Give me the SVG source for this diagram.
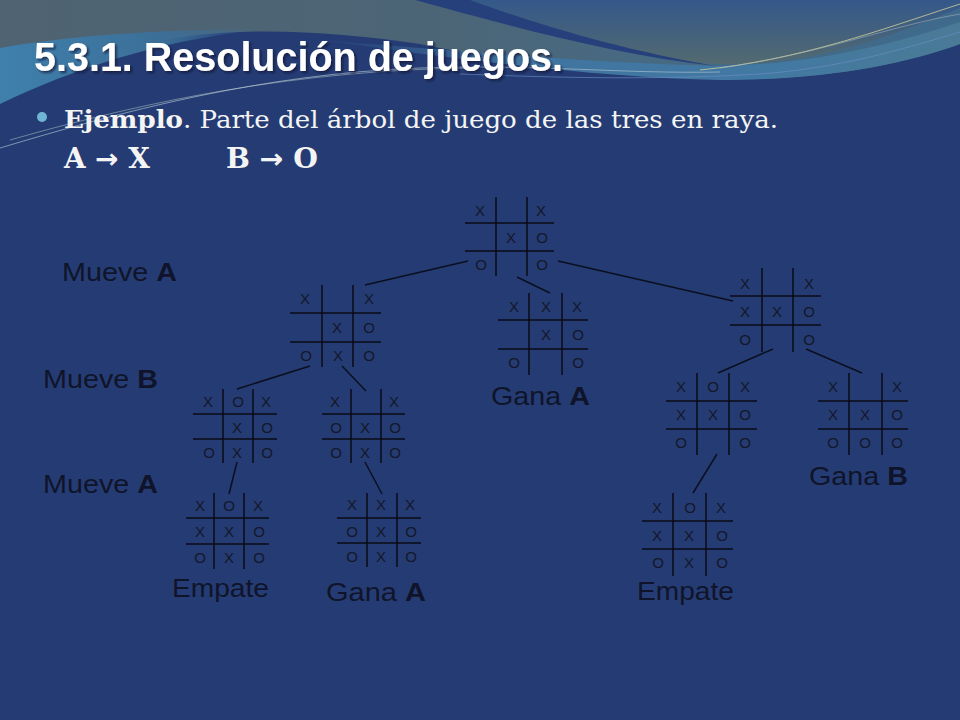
<svg xmlns="http://www.w3.org/2000/svg" width="960" height="720" viewBox="0 0 960 720">
<defs>
<linearGradient id="topg" x1="0" y1="0" x2="1" y2="0">
<stop offset="0" stop-color="#4f6372"/>
<stop offset="0.45" stop-color="#4c6576"/>
<stop offset="0.7" stop-color="#466a84"/>
<stop offset="1" stop-color="#3f6a8c"/>
</linearGradient>
<linearGradient id="domeg" x1="0" y1="0" x2="0" y2="1">
<stop offset="0" stop-color="#34588a"/>
<stop offset="1" stop-color="#536a70"/>
</linearGradient>
<linearGradient id="leftb" x1="0" y1="0" x2="1" y2="0">
<stop offset="0" stop-color="#3f80ad"/>
<stop offset="0.6" stop-color="#3c6f98"/>
<stop offset="1" stop-color="#3c6f98" stop-opacity="0"/>
</linearGradient>
<linearGradient id="tealb" x1="0" y1="0" x2="1" y2="0">
<stop offset="0" stop-color="#3c6e9c" stop-opacity="0"/>
<stop offset="0.3" stop-color="#3f74a0"/>
<stop offset="0.7" stop-color="#4279a2"/>
<stop offset="1" stop-color="#4a7a96"/>
</linearGradient>
<filter id="sh" x="-5%" y="-20%" width="110%" height="140%">
<feDropShadow dx="2" dy="2" stdDeviation="1" flood-color="#101830" flood-opacity="0.7"/>
</filter>
<style>
.g line{stroke:#0a0a14;stroke-width:1.5}
.g text{font-family:"Liberation Sans",Arial,sans-serif;font-size:15px;fill:#14172a;text-anchor:middle;dominant-baseline:central}
.c line{stroke:#0b0f20;stroke-width:1.5}
.lbl{font-family:"Liberation Sans",Arial,sans-serif;font-size:26px;fill:#10142a}
.lbl tspan.b{font-weight:bold}
.ser{font-family:"DejaVu Serif","Liberation Serif",serif;fill:#f4f4f4}
</style>
</defs>
<g id="background">
<rect width="960" height="720" fill="#243c73"/>
<path d="M0,0 H960 V44 C880,72 800,80 720,79 C600,77 500,60 420,44 C340,32 260,27 190,36 C120,46 55,72 0,102 Z" fill="url(#topg)"/>
<path d="M0,48 C70,36 150,30 265,29 C160,40 75,68 0,104 Z" fill="url(#leftb)"/>
<path d="M320,40 C450,50 600,64 720,66 C820,64 900,42 960,22 V44 C900,66 820,80 720,80 C600,78 450,58 320,40 Z" fill="url(#tealb)"/>
<path d="M421,0 C500,22 620,58 720,64 C820,66 900,32 960,8 V0 Z" fill="url(#domeg)"/>
<path d="M415,0 C510,26 620,56 716,66 C620,50 530,22 470,0 Z" fill="#26407c"/>
<path d="M0,148 C120,112 260,74 420,68 C540,64 620,74 720,72" fill="none" stroke="#a7bccc" stroke-width="1" opacity="0.7"/>
<path d="M10,140 C150,100 300,70 470,68" fill="none" stroke="#d2dcd4" stroke-width="0.8" opacity="0.55"/>
<path d="M700,70 C800,60 880,30 960,4" fill="none" stroke="#cfcf9c" stroke-width="1" opacity="0.8"/>
<path d="M720,68 C820,54 890,26 960,14" fill="none" stroke="#a3b6ba" stroke-width="0.8" opacity="0.7"/>
<path d="M460,74 C560,78 660,80 760,74 C840,68 900,50 960,32" fill="none" stroke="#7090c8" stroke-width="1" opacity="0.6"/>
</g>
<g id="header">
<text x="34" y="71" font-family="Liberation Sans,Arial,sans-serif" font-size="40" font-weight="bold" fill="#ffffff" filter="url(#sh)" textLength="529" lengthAdjust="spacingAndGlyphs">5.3.1. Resolución de juegos.</text>
<circle cx="42" cy="117" r="5" fill="#6fb6d6"/>
<text class="ser" x="64" y="128" font-size="25" textLength="714" lengthAdjust="spacingAndGlyphs"><tspan font-weight="bold">Ejemplo</tspan>. Parte del árbol de juego de las tres en raya.</text>
<text class="ser" x="64" y="168" font-size="27" font-weight="bold" textLength="86" lengthAdjust="spacingAndGlyphs">A <tspan font-family="DejaVu Sans,sans-serif">→</tspan> X</text>
<text class="ser" x="226" y="168" font-size="27" font-weight="bold" textLength="92" lengthAdjust="spacingAndGlyphs">B <tspan font-family="DejaVu Sans,sans-serif">→</tspan> O</text>
</g>
<g id="connectors" class="c">
<line x1="468" y1="261" x2="365" y2="285"/>
<line x1="517" y1="277" x2="550" y2="293"/>
<line x1="558" y1="261" x2="733" y2="301"/>
<line x1="310" y1="366" x2="237" y2="389"/>
<line x1="342" y1="366" x2="366" y2="391"/>
<line x1="237" y1="462" x2="229" y2="494"/>
<line x1="365" y1="462" x2="382" y2="494"/>
<line x1="773" y1="349" x2="718" y2="373"/>
<line x1="806" y1="349" x2="862" y2="373"/>
<line x1="717" y1="454" x2="693" y2="493"/>
</g>
<g id="board0" class="g">
<line x1="465" y1="223" x2="554" y2="223"/><line x1="465" y1="251" x2="554" y2="251"/>
<line x1="496" y1="197" x2="496" y2="276"/><line x1="527" y1="197" x2="527" y2="276"/>
<text x="480" y="210">X</text><text x="541" y="210">X</text>
<text x="511" y="237">X</text><text x="542" y="237">O</text>
<text x="481" y="264">O</text><text x="542" y="264">O</text>
</g>
<g id="board1" class="g">
<line x1="290" y1="313" x2="381" y2="313"/><line x1="290" y1="342" x2="381" y2="342"/>
<line x1="322" y1="285" x2="322" y2="367"/><line x1="353" y1="285" x2="353" y2="367"/>
<text x="305" y="298">X</text><text x="369" y="298">X</text>
<text x="337" y="327">X</text><text x="369" y="327">O</text>
<text x="306" y="355">O</text><text x="338" y="355">X</text><text x="369" y="355">O</text>
</g>
<g id="board2" class="g">
<line x1="498" y1="320" x2="588" y2="320"/><line x1="498" y1="349" x2="588" y2="349"/>
<line x1="529" y1="293" x2="529" y2="375"/><line x1="562" y1="293" x2="562" y2="375"/>
<text x="514" y="306">X</text><text x="546" y="306">X</text><text x="577" y="306">X</text>
<text x="546" y="334">X</text><text x="578" y="334">O</text>
<text x="514" y="362">O</text><text x="578" y="362">O</text>
</g>
<g id="board3" class="g">
<line x1="730" y1="296" x2="821" y2="296"/><line x1="730" y1="325" x2="821" y2="325"/>
<line x1="762" y1="268" x2="762" y2="352"/><line x1="793" y1="268" x2="793" y2="352"/>
<text x="745" y="283">X</text><text x="809" y="283">X</text>
<text x="745" y="311">X</text><text x="777" y="311">X</text><text x="809" y="311">O</text>
<text x="745" y="339">O</text><text x="809" y="339">O</text>
</g>
<g id="board4" class="g">
<line x1="193" y1="414" x2="277" y2="414"/><line x1="193" y1="439" x2="277" y2="439"/>
<line x1="223" y1="389" x2="223" y2="463"/><line x1="253" y1="389" x2="253" y2="463"/>
<text x="208" y="401">X</text><text x="238" y="401">O</text><text x="266" y="401">X</text>
<text x="237" y="427">X</text><text x="267" y="427">O</text>
<text x="209" y="452">O</text><text x="237" y="452">X</text><text x="267" y="452">O</text>
</g>
<g id="board5" class="g">
<line x1="322" y1="414" x2="405" y2="414"/><line x1="322" y1="439" x2="405" y2="439"/>
<line x1="351" y1="389" x2="351" y2="463"/><line x1="381" y1="389" x2="381" y2="463"/>
<text x="335" y="401">X</text><text x="394" y="401">X</text>
<text x="336" y="427">O</text><text x="365" y="427">X</text><text x="395" y="427">O</text>
<text x="336" y="452">O</text><text x="365" y="452">X</text><text x="395" y="452">O</text>
</g>
<g id="board6" class="g">
<line x1="666" y1="401" x2="757" y2="401"/><line x1="666" y1="429" x2="757" y2="429"/>
<line x1="697" y1="373" x2="697" y2="455"/><line x1="729" y1="373" x2="729" y2="455"/>
<text x="681" y="386">X</text><text x="713" y="386">O</text><text x="745" y="386">X</text>
<text x="681" y="414">X</text><text x="713" y="414">X</text><text x="745" y="414">O</text>
<text x="681" y="442">O</text><text x="745" y="442">O</text>
</g>
<g id="board7" class="g">
<line x1="818" y1="401" x2="908" y2="401"/><line x1="818" y1="429" x2="908" y2="429"/>
<line x1="849" y1="373" x2="849" y2="455"/><line x1="882" y1="373" x2="882" y2="455"/>
<text x="833" y="386">X</text><text x="897" y="386">X</text>
<text x="833" y="414">X</text><text x="865" y="414">X</text><text x="897" y="414">O</text>
<text x="833" y="442">O</text><text x="865" y="442">O</text><text x="897" y="442">O</text>
</g>
<g id="board8" class="g">
<line x1="186" y1="518" x2="269" y2="518"/><line x1="186" y1="544" x2="269" y2="544"/>
<line x1="214" y1="493" x2="214" y2="569"/><line x1="244" y1="493" x2="244" y2="569"/>
<text x="200" y="505">X</text><text x="229" y="505">O</text><text x="258" y="505">X</text>
<text x="200" y="531">X</text><text x="229" y="531">X</text><text x="259" y="531">O</text>
<text x="200" y="557">O</text><text x="229" y="557">X</text><text x="259" y="557">O</text>
</g>
<g id="board9" class="g">
<line x1="337" y1="518" x2="421" y2="518"/><line x1="337" y1="543" x2="421" y2="543"/>
<line x1="367" y1="493" x2="367" y2="567"/><line x1="397" y1="493" x2="397" y2="567"/>
<text x="352" y="504">X</text><text x="381" y="504">X</text><text x="410" y="504">X</text>
<text x="352" y="531">O</text><text x="381" y="531">X</text><text x="411" y="531">O</text>
<text x="352" y="556">O</text><text x="381" y="556">X</text><text x="411" y="556">O</text>
</g>
<g id="board10" class="g">
<line x1="642" y1="521" x2="733" y2="521"/><line x1="642" y1="549" x2="733" y2="549"/>
<line x1="673" y1="493" x2="673" y2="576"/><line x1="706" y1="493" x2="706" y2="576"/>
<text x="657" y="507">X</text><text x="690" y="507">O</text><text x="721" y="507">X</text>
<text x="657" y="535">X</text><text x="689" y="535">X</text><text x="722" y="535">O</text>
<text x="658" y="562">O</text><text x="689" y="562">X</text><text x="722" y="562">O</text>
</g>
<g id="labels">
<text class="lbl" x="62" y="281" textLength="115" lengthAdjust="spacingAndGlyphs">Mueve <tspan class="b">A</tspan></text>
<text class="lbl" x="43" y="388" textLength="115" lengthAdjust="spacingAndGlyphs">Mueve <tspan class="b">B</tspan></text>
<text class="lbl" x="43" y="493" textLength="115" lengthAdjust="spacingAndGlyphs">Mueve <tspan class="b">A</tspan></text>
<text class="lbl" x="491" y="405" textLength="99" lengthAdjust="spacingAndGlyphs">Gana <tspan class="b">A</tspan></text>
<text class="lbl" x="809" y="485" textLength="99" lengthAdjust="spacingAndGlyphs">Gana <tspan class="b">B</tspan></text>
<text class="lbl" x="172" y="597" textLength="97" lengthAdjust="spacingAndGlyphs">Empate</text>
<text class="lbl" x="326" y="601" textLength="100" lengthAdjust="spacingAndGlyphs">Gana <tspan class="b">A</tspan></text>
<text class="lbl" x="637" y="600" textLength="97" lengthAdjust="spacingAndGlyphs">Empate</text>
</g>
</svg>
